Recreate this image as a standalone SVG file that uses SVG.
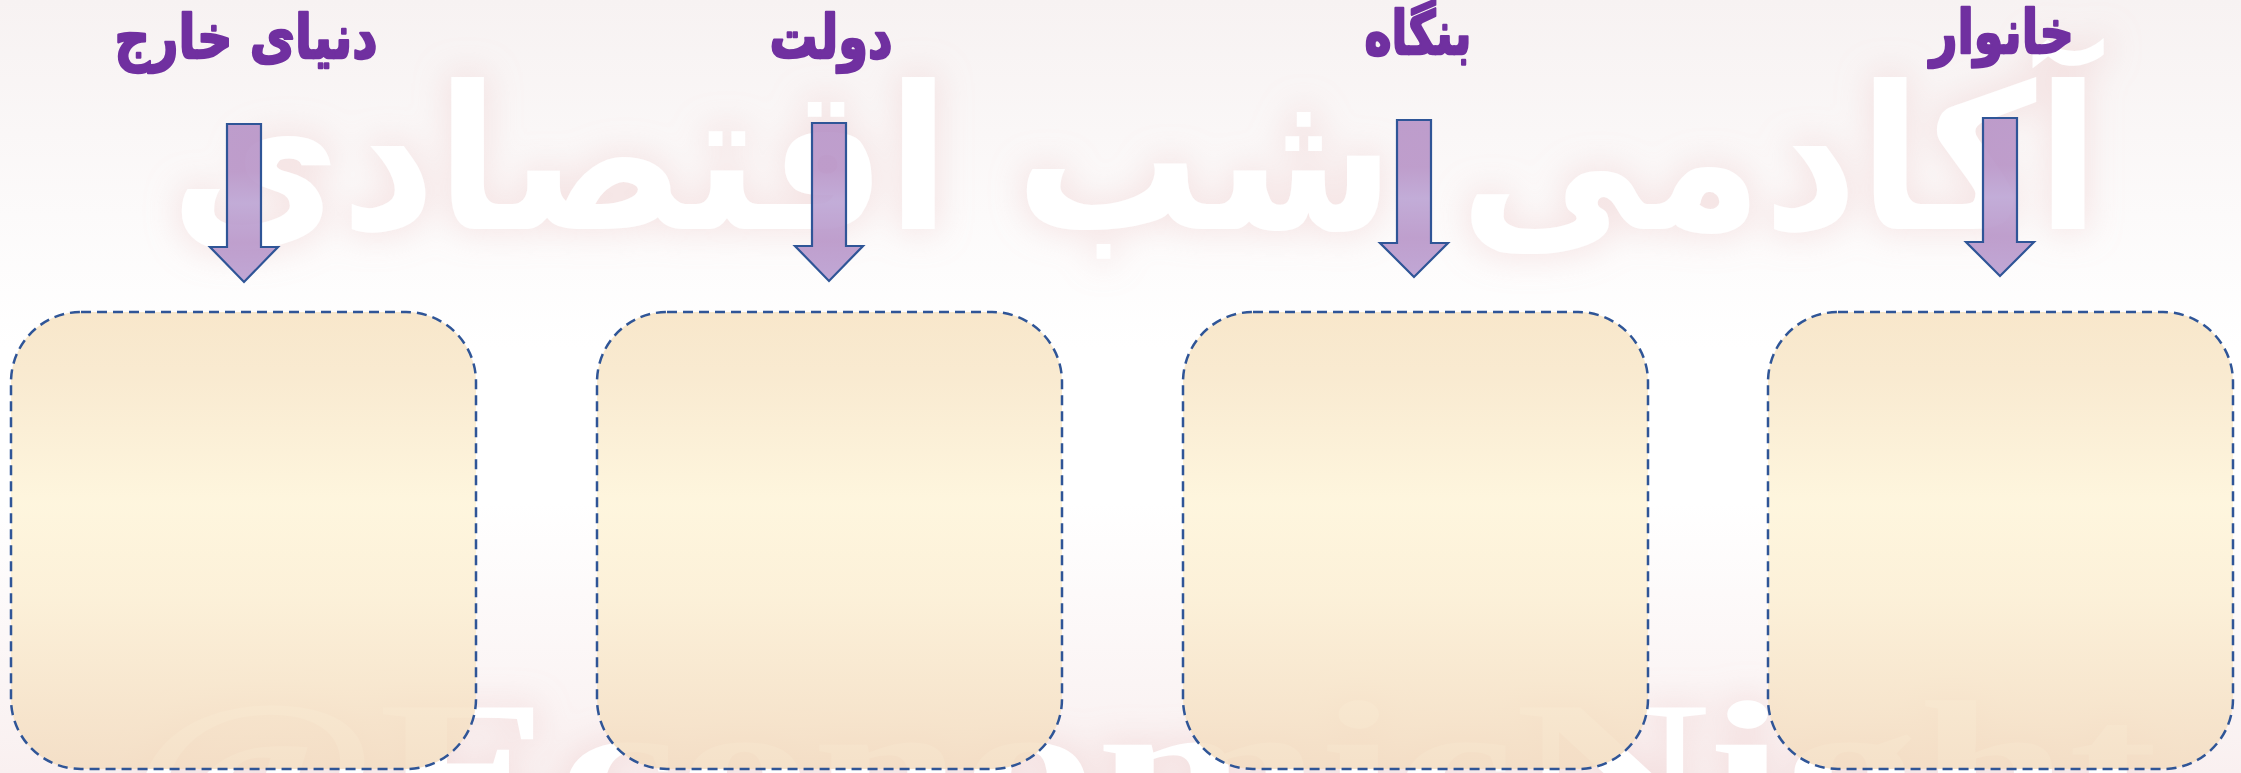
<svg xmlns="http://www.w3.org/2000/svg" width="2241" height="773" viewBox="0 0 2241 773">
<style>
.title{font-family:"DejaVu Sans","Noto Sans",sans-serif;font-weight:bold;font-size:60px;fill:#7030a0;stroke:#7030a0;stroke-width:2.5;stroke-linejoin:round;text-anchor:middle;direction:rtl}
.box{fill:url(#boxGrad);fill-opacity:0.85;stroke:#2f5597;stroke-width:2.5;stroke-dasharray:10 6}
.arrow{fill:url(#arrowGrad);fill-opacity:0.9;stroke:#2f5597;stroke-width:2.2;stroke-linejoin:miter}
.wm{fill:#ffffff;font-weight:bold}
</style>
<defs>
<linearGradient id="bgGrad" x1="0" y1="0" x2="0" y2="1">
<stop offset="0" stop-color="#f7f2f2"/>
<stop offset="0.45" stop-color="#ffffff"/>
<stop offset="0.65" stop-color="#ffffff"/>
<stop offset="1" stop-color="#f9f0f0"/>
</linearGradient>
<linearGradient id="boxGrad" x1="0" y1="0" x2="0" y2="1">
<stop offset="0" stop-color="#f7e3c2"/>
<stop offset="0.15" stop-color="#f8e7c9"/>
<stop offset="0.42" stop-color="#fef4d8"/>
<stop offset="0.62" stop-color="#fcefd3"/>
<stop offset="1" stop-color="#f3dcc0"/>
</linearGradient>
<linearGradient id="arrowGrad" x1="0" y1="0" x2="0" y2="1">
<stop offset="0" stop-color="#b793c7"/>
<stop offset="0.3" stop-color="#b894c7"/>
<stop offset="0.5" stop-color="#bca4d4"/>
<stop offset="0.75" stop-color="#b895c8"/>
<stop offset="1" stop-color="#ba9ed1"/>
</linearGradient>
<filter id="glow" x="-10%" y="-40%" width="120%" height="180%">
<feMorphology in="SourceAlpha" operator="dilate" radius="5" result="d"/>
<feGaussianBlur in="d" stdDeviation="16" result="b"/>
<feFlood flood-color="#e9bcbc" flood-opacity="0.32"/>
<feComposite in2="b" operator="in" result="g"/>
<feMerge><feMergeNode in="g"/><feMergeNode in="SourceGraphic"/></feMerge>
</filter>
</defs>
<rect x="0" y="0" width="2241" height="773" fill="url(#bgGrad)"/>
<g id="watermark" filter="url(#glow)">
<text class="wm" x="1135" y="229" font-family="DejaVu Sans, sans-serif" font-size="200" text-anchor="middle" direction="rtl" textLength="1930" lengthAdjust="spacingAndGlyphs">آکادمی شب اقتصادی</text>
<text class="wm" x="1143" y="832" font-family="Liberation Serif, serif" font-size="190" text-anchor="middle" textLength="2030" lengthAdjust="spacingAndGlyphs">@EconomicNight</text>
</g>
<g id="node-world">
<rect class="box" x="11" y="312" width="465" height="457" rx="70" ry="70"/>
<text class="title" x="246" y="58" textLength="263" lengthAdjust="spacingAndGlyphs">دنیای خارج</text>
</g>
<g id="node-government">
<rect class="box" x="597" y="312" width="465" height="457" rx="70" ry="70"/>
<text class="title" x="831" y="58" textLength="123" lengthAdjust="spacingAndGlyphs">دولت</text>
</g>
<g id="node-firm">
<rect class="box" x="1183" y="312" width="465" height="457" rx="70" ry="70"/>
<text class="title" x="1418" y="54" textLength="107" lengthAdjust="spacingAndGlyphs">بنگاه</text>
</g>
<g id="node-household">
<rect class="box" x="1768" y="312" width="465" height="457" rx="70" ry="70"/>
<text class="title" x="2002" y="53" textLength="144" lengthAdjust="spacingAndGlyphs">خانوار</text>
</g>
<g id="connectors">
<path class="arrow" d="M227,124 H261 V247 H278 L244,282 L210,247 H227 Z"/>
<path class="arrow" d="M812,123 H846 V246 H863 L829,281 L795,246 H812 Z"/>
<path class="arrow" d="M1397,120 H1431 V243 H1448 L1414,277 L1380,243 H1397 Z"/>
<path class="arrow" d="M1983,118 H2017 V242 H2034 L2000,276 L1966,242 H1983 Z"/>
</g>
</svg>
